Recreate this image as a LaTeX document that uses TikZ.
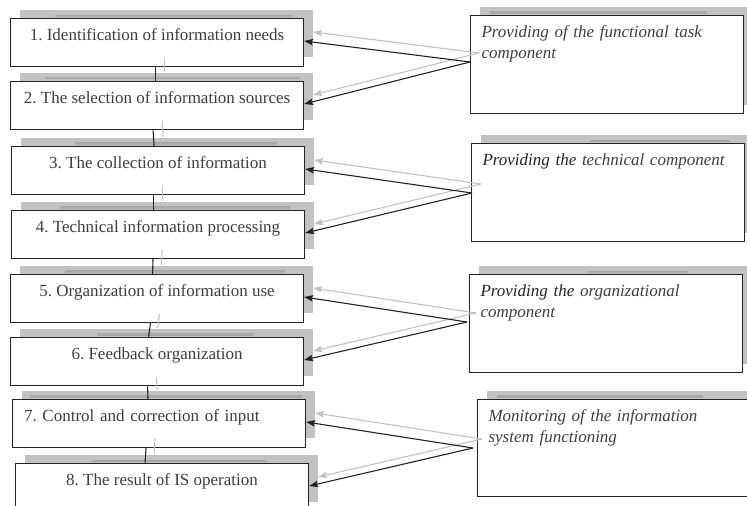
\documentclass[tikz,border=0pt]{standalone}
\usepackage{fontspec}
\setmainfont{Liberation Serif}
\usetikzlibrary{arrows.meta,positioning,calc,shadows}
\definecolor{shadowgray}{RGB}{194,194,194}
\definecolor{bandgray}{RGB}{168,168,168}
\definecolor{inkgray}{RGB}{62,62,62}
\definecolor{edgegray}{RGB}{35,35,35}

\begin{document}
\frenchspacing
\begin{tikzpicture}[x=1pt, y=-1pt,
    stage/.style={rectangle, draw=edgegray, line width=1.1pt, fill=white, text=inkgray,
        minimum width=293pt, inner xsep=0pt, inner ysep=0pt, text height=22pt, text depth=25.5pt,
        anchor=north west, font=\fontsize{17}{20}\selectfont,
        drop shadow={shadow xshift=9pt, shadow yshift=9pt, fill=shadowgray, opacity=1}},
    task/.style={stage, text width=251pt, align=left, inner xsep=11pt, minimum width=273pt,
        text depth=76pt, font=\itshape\fontsize{17}{21}\selectfont},
    link/.style={edgegray, line width=1.1pt},
    linkshade/.style={shadowgray, line width=1.1pt},
    arrow/.style={edgegray, line width=1.1pt, -{Stealth[length=9pt, width=6.5pt, inset=1.5pt]}},
    shadearrow/.style={shadowgray, line width=1.1pt, -{Stealth[length=9pt, width=6.5pt, inset=1.5pt]}},
    band/.style={bandgray, line width=2.5pt},
    sh/.style={xshift=9pt, yshift=9pt}
]
\useasboundingbox (0,0) rectangle (747,506);
\clip (0,0) rectangle (747,506);

% stages of the information process
\node[stage] (b1) at (10,18) {1. Identification of information needs};
\node[stage] (b2) at (10,81) {2. The selection of information sources};
\node[stage] (b3) at (11,146) {3. The collection of information};
\node[stage] (b4) at (11,210) {4. Technical information processing};
\node[stage] (b5) at (10,274) {5. Organization of information use};
\node[stage] (b6) at (10,337) {6. Feedback organization};
\node[stage, text width=270pt, align=left, inner xsep=11pt] (b7) at (12,399) {7. Control and correction of input};
\node[stage] (b8) at (15,463) {8. The result of IS operation};

% supporting components
\node[task] (r1) at (470,15) {Providing of the functional task\\component};
\node[task] (r2) at (471,143) {{\color{edgegray}Providing the} technical component};
\node[task] (r3) at (469,274) {{\color{edgegray}Providing the} organizational\\component};
\node[task, text width=268pt, minimum width=290pt, text depth=75pt] (r4) at (477,399) {Monitoring of the information\\system functioning};

\coordinate (a1) at (470,62);
\coordinate (a2) at (472,193);
\coordinate (a3) at (467,322);
\coordinate (a4) at (473,448);

% darker edges on the shadows
\foreach \xa/\xb/\yy in {55/293/16, 45/300/78, 75/277/143.5, 60/290/207.5, 65/285/271.5,
    97/253/334.5, 30/302/396.5, 92/267/461, 490/707/12.5, 590/730/141, 588/688/272, 497/703/396.5}
  \draw[band] (\xa,\yy) -- (\xb,\yy);

\foreach \a/\b/\da/\db in {b1/b2/-1.5/-1.5, b2/b3/-4/-4, b3/b4/-5/-5, b4/b5/-5/-4.5,
    b5/b6/-6.5/-8.5, b6/b7/-9.5/-11, b7/b8/-13/-17} {
  \draw[linkshade] ([sh, xshift=\da pt]\a.south) -- ([sh, xshift=\db pt]\b.north);
  \draw[link] ([xshift=\da pt]\a.south) -- ([xshift=\db pt]\b.north);
}

\foreach \ap/\up/\lo in {a1/b1/b2, a2/b3/b4, a3/b5/b6, a4/b7/b8} {
  \draw[shadearrow] ([sh]\ap) -- ([sh, yshift=-23pt]\up.north east);
  \draw[shadearrow] ([sh]\ap) -- ([sh, yshift=-23pt]\lo.north east);
  \draw[arrow] (\ap) -- ([yshift=-23pt]\up.north east);
  \draw[arrow] (\ap) -- ([yshift=-23pt]\lo.north east);
}

\end{tikzpicture}
\end{document}
